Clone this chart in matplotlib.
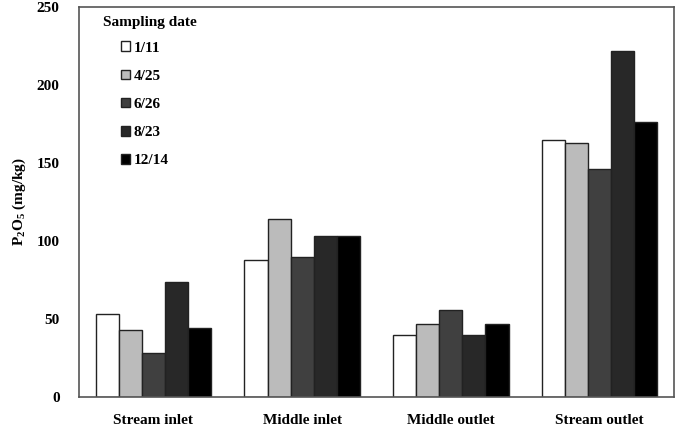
import matplotlib
matplotlib.use("Agg")
import matplotlib.pyplot as plt
import numpy as np

sites = ["Stream inlet", "Middle inlet", "Middle outlet", "Stream outlet"]
dates = ["1/11", "4/25", "6/26", "8/23", "12/14"]
colors = ["#ffffff", "#bbbbbb", "#404040", "#282828", "#000000"]

v_0111 = [53, 88, 39.5, 165]
v_0425 = [43, 114, 47, 163]
v_0626 = [28, 90, 56, 146]
v_0823 = [74, 103.5, 39.5, 222]
v_1214 = [44, 103.5, 46.5, 176]
series = [v_0111, v_0425, v_0626, v_0823, v_1214]

plt.rcParams["font.family"] = ["Liberation Serif", "DejaVu Serif"]
plt.rcParams["font.weight"] = "bold"
plt.rcParams["mathtext.fontset"] = "custom"
plt.rcParams["mathtext.rm"] = "Liberation Serif:bold"
plt.rcParams["mathtext.it"] = "Liberation Serif:bold"
plt.rcParams["mathtext.bf"] = "Liberation Serif:bold"

fs = 11
fig = plt.figure(figsize=(6.79, 4.32), dpi=100)
ax = fig.add_axes([79 / 679, 35 / 432, 595 / 679, 390 / 432])

x = np.arange(len(sites))
w = 0.155
for i, (vals, c, lab) in enumerate(zip(series, colors, dates)):
    ax.bar(x + (i - 2) * w, vals, w, color=c, edgecolor="#222222",
           linewidth=1.0, label=lab)

ax.set_xlim(-0.5, 3.5)
ax.set_ylim(0, 250)
ax.set_yticks(range(0, 251, 50))
ax.set_xticks(x)
ax.set_xticklabels(sites, fontsize=fs, fontweight="bold")
ax.tick_params(axis="both", length=0, labelsize=fs)
ax.tick_params(axis="x", pad=12)
ax.tick_params(axis="y", pad=14)
for lbl in ax.get_yticklabels():
    lbl.set_fontweight("bold")
for s in ax.spines.values():
    s.set_color("#555555")
    s.set_linewidth(1.2)

ax.set_ylabel("P$_2$O$_5$ (mg/kg)", fontsize=fs, fontweight="bold", labelpad=6)

ax.text(0.040, 0.9615, "Sampling date", transform=ax.transAxes,
        fontsize=fs, fontweight="bold", va="center", ha="left")
leg = ax.legend(loc="upper left", frameon=False, fontsize=fs,
                handlelength=0.6, handleheight=0.6, handletextpad=0.25,
                labelspacing=0.98, borderpad=0, borderaxespad=0,
                bbox_to_anchor=(0.0706, 0.912))
for t in leg.get_texts():
    t.set_fontweight("bold")

fig.savefig("out.png", dpi=100)
